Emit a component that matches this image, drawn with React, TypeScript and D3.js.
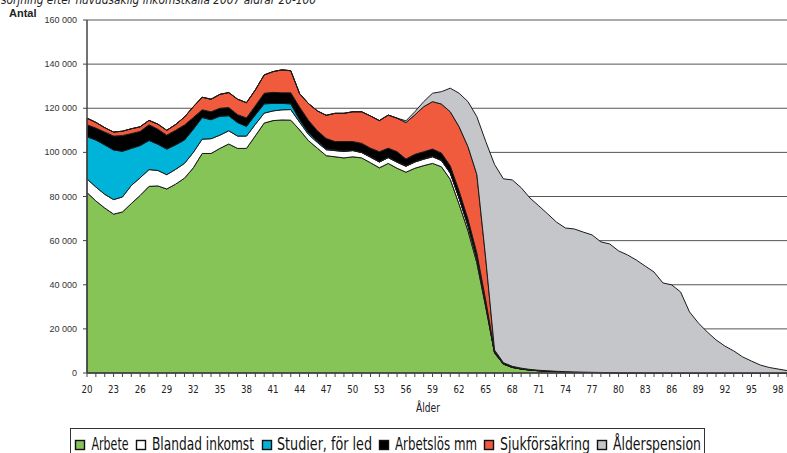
import * as d3 from 'd3';

// ages 20..100, one value per year
const ages = d3.range(20, 101);

const arbete = [
  81800, 78000, 74800, 72000, 73000, 76800, 80500, 84600, 84800, 83400,
  85600, 88300, 93000, 99500, 99500, 101800, 103800, 101800, 101800, 107500,
  113300, 114400, 114700, 114600, 110200, 105300, 101900, 98500, 98000, 97500,
  98000, 97500, 95300, 93000, 95000, 92800, 91000, 92800, 94000, 95000,
  93500, 87800, 76500, 64500, 50000, 30000, 9000, 4000, 2500, 1800,
  1300, 1000, 800, 600, 500, 400, 300, 250, 200, 150,
  120, 100, 80, 60, 50, 40, 30, 20, 10, 0,
  0, 0, 0, 0, 0, 0, 0, 0, 0, 0, 0,
];
const blandad = [
  6200, 6300, 6200, 6600, 6800, 8200, 8000, 7600, 7000, 6500,
  6700, 6700, 7000, 6500, 6700, 6000, 6000, 5600, 5600, 5200,
  4500, 4400, 4600, 4800, 3500, 2800, 2600, 2700, 2800, 2900,
  2800, 2400, 2500, 2600, 2600, 2700, 2700, 2800, 2900, 3000,
  2800, 2800, 2700, 2200, 1800, 1200, 300, 100, 80, 50,
  40, 30, 20, 20, 10, 10, 10, 0, 0, 0,
  0, 0, 0, 0, 0, 0, 0, 0, 0, 0,
  0, 0, 0, 0, 0, 0, 0, 0, 0, 0, 0,
];
const studier = [
  19100, 21300, 22400, 22500, 20700, 16800, 14600, 13200, 11900, 11600,
  11100, 10600, 10500, 9800, 8600, 8600, 6800, 6100, 4400, 4300,
  4200, 3400, 2900, 2600, 1100, 800, 600, 400, 300, 300,
  200, 200, 200, 200, 200, 200, 200, 200, 200, 200,
  200, 100, 100, 100, 100, 100, 0, 0, 0, 0,
  0, 0, 0, 0, 0, 0, 0, 0, 0, 0,
  0, 0, 0, 0, 0, 0, 0, 0, 0, 0,
  0, 0, 0, 0, 0, 0, 0, 0, 0, 0, 0,
];
const arbetslos = [
  5400, 5400, 5800, 6300, 7100, 6700, 6400, 7100, 6800, 6300,
  6600, 6800, 5300, 3500, 3600, 3600, 3700, 3600, 3800, 4100,
  4800, 5000, 4800, 5000, 5700, 5600, 4700, 4700, 3800, 4200,
  3900, 4000, 3900, 4500, 4100, 4600, 3100, 3300, 3200, 3300,
  3200, 3200, 3200, 3000, 2500, 1800, 700, 400, 300, 250,
  200, 150, 120, 100, 80, 60, 50, 40, 30, 30,
  20, 20, 20, 10, 10, 0, 0, 0, 0, 0,
  0, 0, 0, 0, 0, 0, 0, 0, 0, 0, 0,
];
const sjuk = [
  3000, 2600, 2000, 1800, 2000, 2200, 2100, 2000, 2300, 2200,
  2600, 3600, 4900, 5700, 5700, 6300, 6800, 7000, 6900, 7200,
  8300, 9400, 10400, 10000, 6100, 7600, 9000, 10500, 12800, 12800,
  13500, 14300, 14600, 14100, 15000, 15200, 16500, 17900, 20400, 21500,
  22200, 24500, 29100, 32800, 35600, 18900, 400, 200, 150, 100,
  80, 60, 50, 40, 30, 20, 20, 10, 10, 10,
  0, 0, 0, 0, 0, 0, 0, 0, 0, 0,
  0, 0, 0, 0, 0, 0, 0, 0, 0, 0, 0,
];
const alder = [
  0, 0, 0, 0, 0, 0, 0, 0, 0, 0,
  0, 0, 0, 0, 0, 0, 0, 0, 0, 0,
  0, 0, 0, 0, 0, 0, 0, 0, 0, 0,
  0, 0, 0, 0, 0, 0, 800, 1400, 2300, 3800,
  5600, 10700, 15200, 20400, 26200, 53000, 84100, 83300, 84500, 81800,
  77700, 74500, 71100, 67600, 65100, 64800, 63500, 62300, 59200, 58300,
  55200, 53400, 51100, 48400, 45700, 40800, 39900, 36700, 27700, 22700,
  18600, 15000, 12200, 10000, 7300, 5400, 3600, 2500, 1800, 1100, 600,
];

const seriesNames = ['Arbete', 'Blandad inkomst', 'Studier, för led', 'Arbetslös mm', 'Sjukförsäkring', 'Ålderspension'];
const seriesValues = [arbete, blandad, studier, arbetslos, sjuk, alder];
const colors = ['#86c457', '#ffffff', '#00b3d8', '#000000', '#f15b3d', '#c5c6c9'];
const yTicks = [0, 20000, 40000, 60000, 80000, 100000, 120000, 140000, 160000];
const xLabelAges = ages.filter((a) => (a - 20) % 3 === 0);

const title = 'Försörjning efter huvudsaklig inkomstkälla 2007 åldrar 20-100';

const narrow = "'Liberation Sans Narrow', 'DejaVu Sans Condensed', 'DejaVu Sans', sans-serif";
const sans = "'Liberation Sans', Arial, sans-serif";

// legend layout: square x, text x, text width
const legendLayout = [
  [75, 91.5, 37],
  [136, 152, 102],
  [262, 277, 95],
  [379, 395, 82],
  [484, 500, 90],
  [597, 613, 88],
];

export default function App() {
  const width = 787;
  const height = 453;
  const left = 87;
  const step = 8.86;

  const x = d3.scaleLinear().domain([20, 100]).range([left, left + 80 * step]);
  const y = d3.scaleLinear().domain([0, 160000]).range([373, 20]);

  const rows = ages.map((age, i) => {
    const r: any = { age };
    seriesNames.forEach((n, k) => (r[n] = seriesValues[k][i]));
    return r;
  });
  const stacked = d3.stack().keys(seriesNames)(rows);

  const area = d3
    .area<any>()
    .x((d) => x(d.data.age))
    .y0((d) => y(d[0]))
    .y1((d) => y(d[1]));

  const fmt = (v: number) => (v === 0 ? '0' : d3.format(',')(v).replace(/,/g, ' '));

  return (
    <svg width={width} height={height} style={{ position: 'absolute', left: 0, top: 0, background: '#fff' }}>
      <text
        x={-16}
        y={4}
        fontFamily={narrow}
        fontStyle="italic"
        fontSize={13}
        fill="#222"
        textLength={332}
        lengthAdjust="spacingAndGlyphs"
      >
        {title}
      </text>
      <text x={9} y={17} fontFamily={sans} fontWeight={600} fontSize={11} fill="#222">
        Antal
      </text>

      {/* gridlines */}
      {yTicks.filter((t) => t > 0).map((t) => (
        <line key={t} x1={left} x2={width} y1={y(t)} y2={y(t)} stroke="#555" strokeWidth={1} />
      ))}

      {/* stacked areas */}
      {stacked.map((s, i) => (
        <path key={s.key} d={area(s) as string} fill={colors[i]} stroke="#1a1a1a" strokeWidth={1} strokeLinejoin="round" />
      ))}

      {/* y axis */}
      <line x1={left} x2={left} y1={y(160000)} y2={y(0)} stroke="#444" strokeWidth={1.5} />
      {yTicks.map((t) => (
        <g key={t}>
          <line x1={left - 4} x2={left} y1={y(t)} y2={y(t)} stroke="#444" />
          <text x={left - 10} y={y(t) + 3} textAnchor="end" fontFamily={sans} fontSize={9} fill="#333">
            {fmt(t)}
          </text>
        </g>
      ))}

      {/* x axis */}
      <line x1={left} x2={width} y1={y(0)} y2={y(0)} stroke="#444" strokeWidth={1.5} />
      {ages.map((a) => (
        <line key={a} x1={x(a)} x2={x(a)} y1={y(0)} y2={y(0) + 4} stroke="#444" />
      ))}
      {xLabelAges.map((a) => (
        <text
          key={a}
          x={x(a) - 5.5}
          y={393}
          fontFamily={narrow}
          fontSize={11}
          fill="#222"
          textLength={11}
          lengthAdjust="spacingAndGlyphs"
        >
          {a}
        </text>
      ))}
      <text
        x={416}
        y={412}
        fontFamily={narrow}
        fontSize={12}
        fill="#222"
        textLength={24}
        lengthAdjust="spacingAndGlyphs"
      >
        Ålder
      </text>

      {/* legend */}
      <rect x={70.5} y={428.5} width={634} height={30} fill="#fff" stroke="#333" />
      {seriesNames.map((n, i) => {
        const [sx, tx, tw] = legendLayout[i];
        return (
          <g key={n}>
            <rect x={sx + 0.5} y={440.5} width={9} height={9} fill={colors[i]} stroke="#111" strokeWidth={1.4} />
            <text
              x={tx}
              y={450}
              fontFamily={narrow}
              fontSize={17}
              fill="#111"
              textLength={tw}
              lengthAdjust="spacingAndGlyphs"
            >
              {n}
            </text>
          </g>
        );
      })}
    </svg>
  );
}
